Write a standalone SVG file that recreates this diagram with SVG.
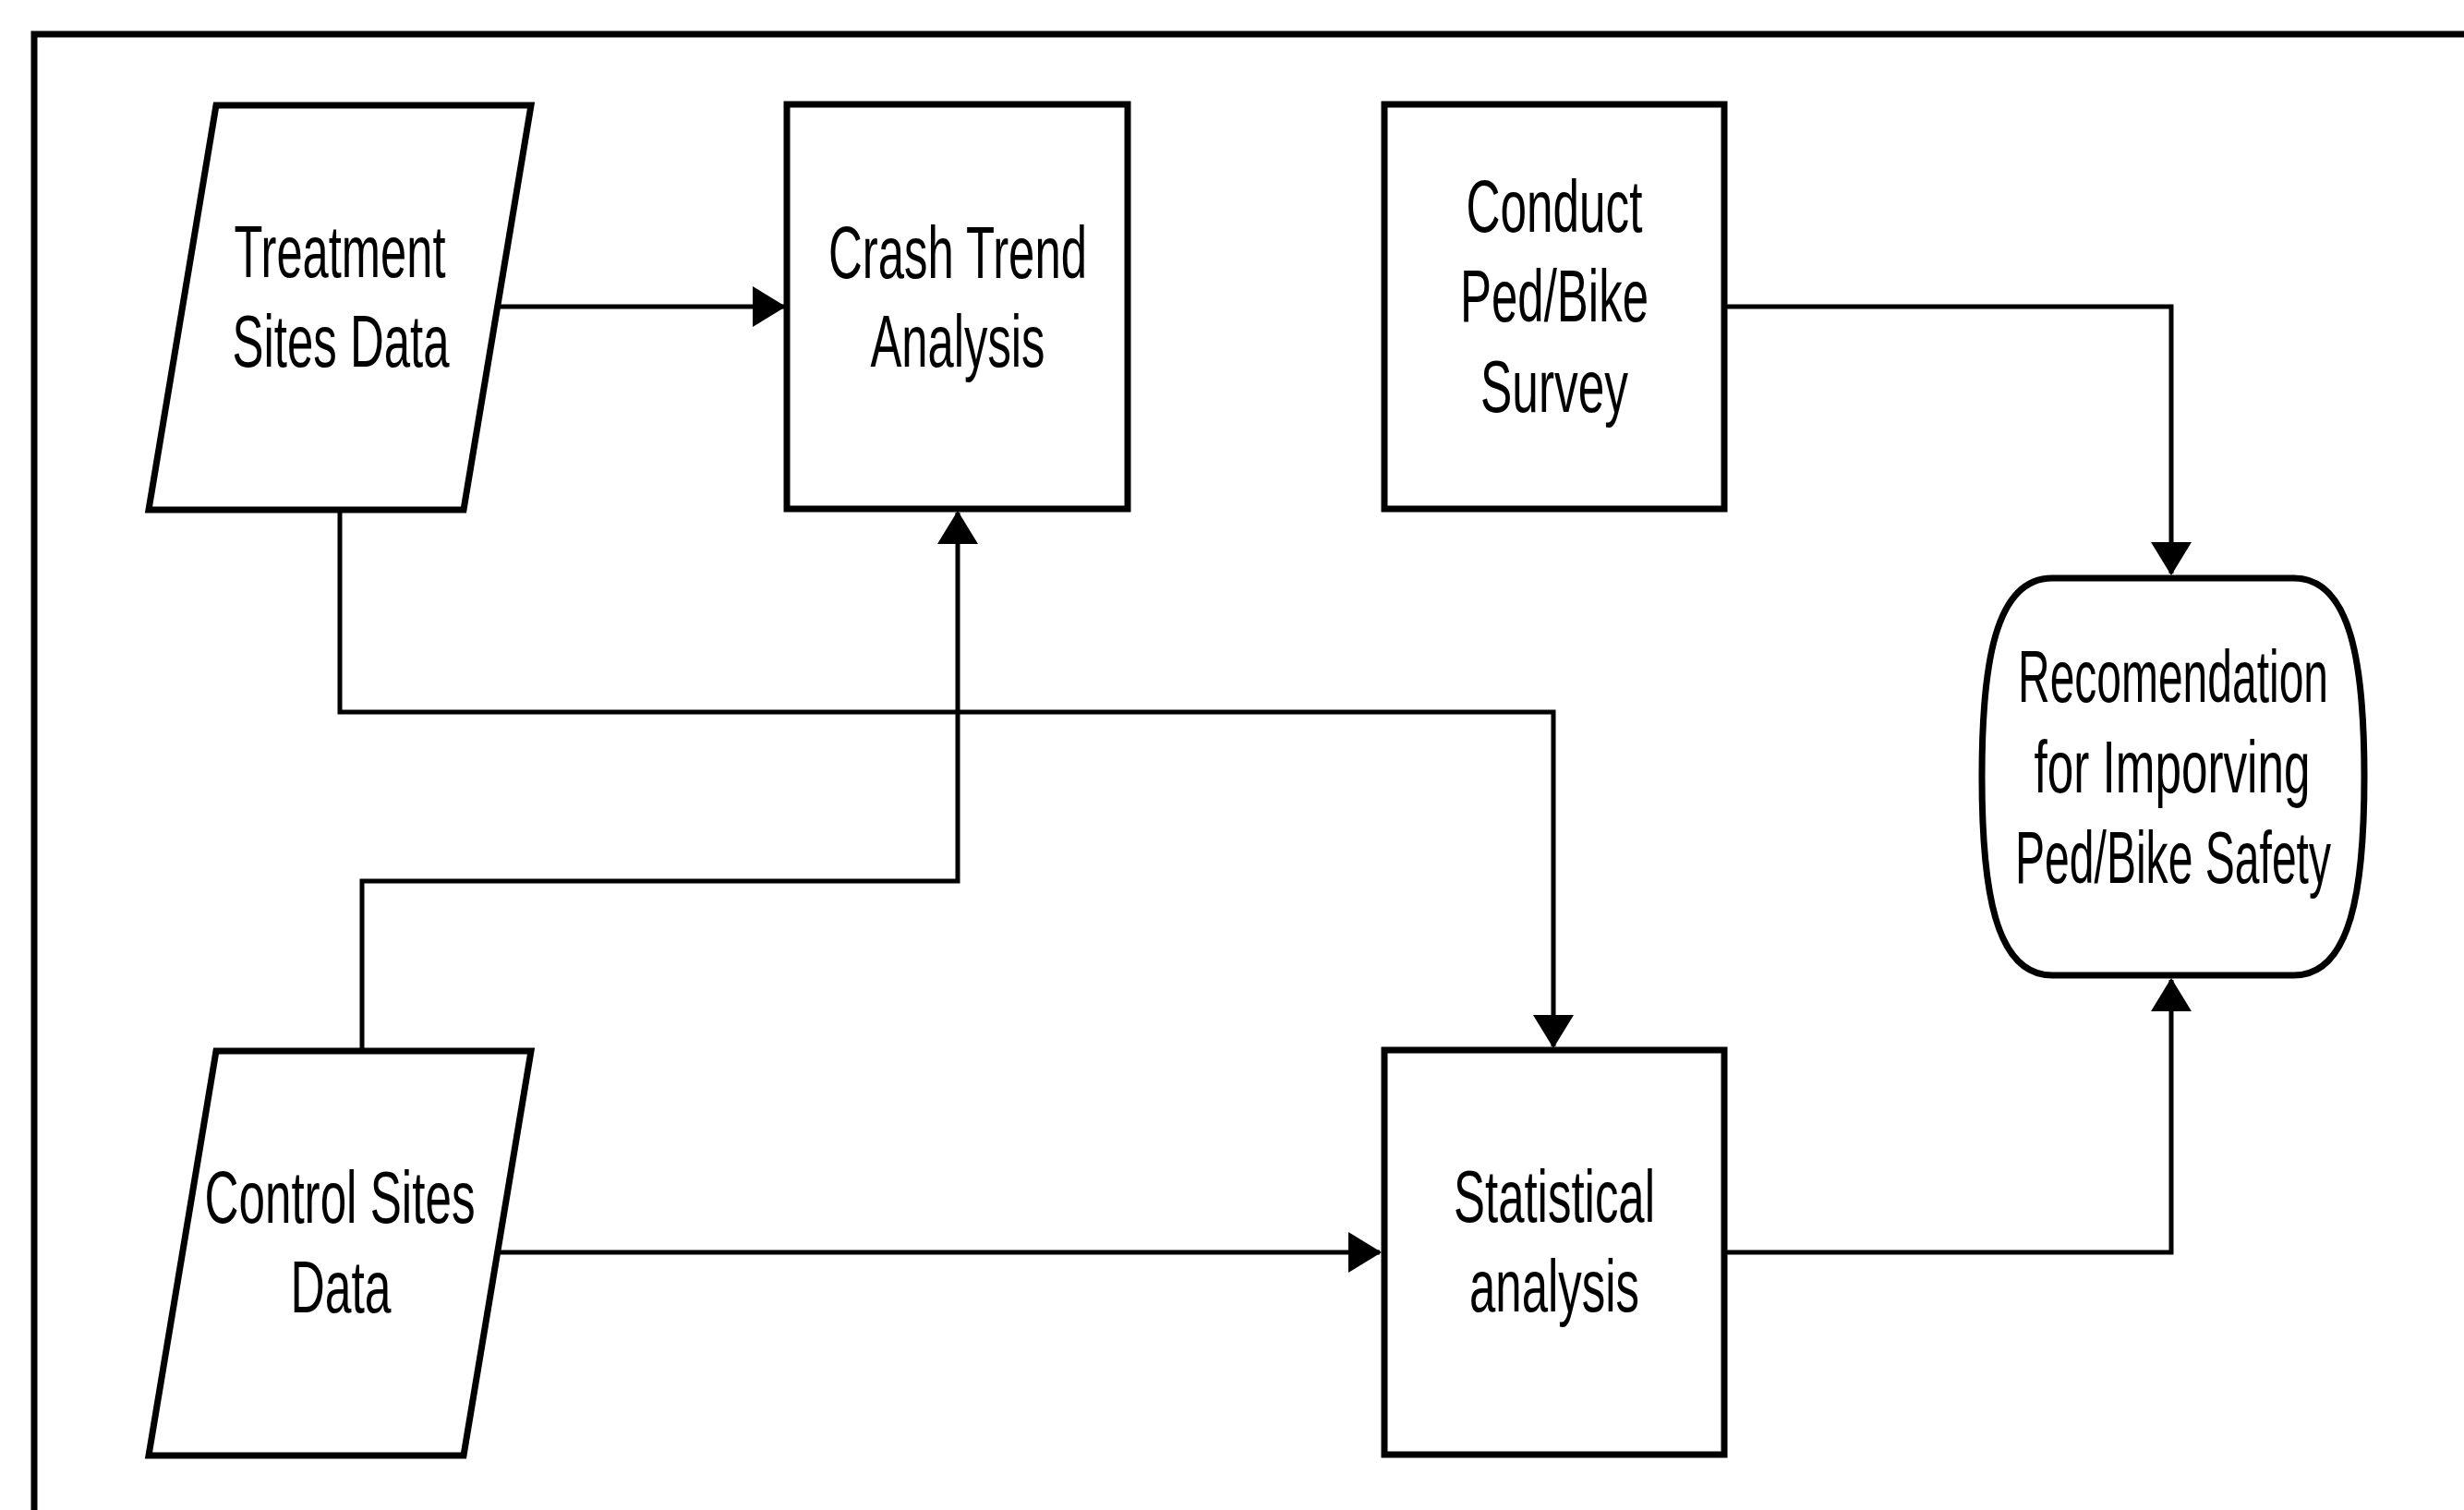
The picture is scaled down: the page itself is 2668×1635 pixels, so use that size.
<svg xmlns="http://www.w3.org/2000/svg" width="2668" height="1635" viewBox="0 0 2668 1635">
<defs>
<style>
.shape{fill:#fff;stroke:#000;stroke-width:7;stroke-linejoin:miter}
.conn{fill:none;stroke:#000;stroke-width:5}
.lbl{font-family:"Liberation Sans",Arial,sans-serif;font-size:80px;fill:#000;text-anchor:middle}
</style>
<marker id="arr" markerUnits="userSpaceOnUse" markerWidth="36" markerHeight="44" refX="34" refY="22" orient="auto" viewBox="0 0 36 44">
<path d="M0,0 L36,22 L0,44 Z" fill="#000"/>
</marker>
</defs>
<rect width="2668" height="1635" fill="#fff"/>
<path d="M37,1645 L37,37 L2680,37" fill="none" stroke="#000" stroke-width="7"/>
<g id="connectors">
<path class="conn" d="M532,332 L849,332" marker-end="url(#arr)"/>
<path class="conn" d="M368,551 L368,771 L1682,771 L1682,1133" marker-end="url(#arr)"/>
<path class="conn" d="M392,1137 L392,954 L1037,954 L1037,555" marker-end="url(#arr)"/>
<path class="conn" d="M533,1356 L1494,1356" marker-end="url(#arr)"/>
<path class="conn" d="M1867,332 L2351,332 L2351,621" marker-end="url(#arr)"/>
<path class="conn" d="M1867,1356 L2351,1356 L2351,1061" marker-end="url(#arr)"/>
</g>
<g id="treatment">
<polygon class="shape" points="234,114 575,114 502,552 161,552"/>
<text class="lbl" x="368" y="300" textLength="229" lengthAdjust="spacingAndGlyphs">Treatment</text>
<text class="lbl" x="369" y="397" textLength="235" lengthAdjust="spacingAndGlyphs">Sites Data</text>
</g>
<g id="crash">
<rect class="shape" x="852" y="113" width="369" height="438"/>
<text class="lbl" x="1037" y="301" textLength="280" lengthAdjust="spacingAndGlyphs">Crash Trend</text>
<text class="lbl" x="1037" y="397" textLength="189" lengthAdjust="spacingAndGlyphs">Analysis</text>
</g>
<g id="conduct">
<rect class="shape" x="1499" y="113" width="368" height="438"/>
<text class="lbl" x="1683" y="251" textLength="191" lengthAdjust="spacingAndGlyphs">Conduct</text>
<text class="lbl" x="1683" y="348" textLength="204" lengthAdjust="spacingAndGlyphs">Ped/Bike</text>
<text class="lbl" x="1683" y="446" textLength="160" lengthAdjust="spacingAndGlyphs">Survey</text>
</g>
<g id="recommendation">
<path class="shape" d="M2222,626 L2484,626 C2546,626 2560,720 2560,841 C2560,962 2546,1056 2484,1056 L2222,1056 C2160,1056 2146,962 2146,841 C2146,720 2160,626 2222,626 Z"/>
<text class="lbl" x="2353" y="760" textLength="336" lengthAdjust="spacingAndGlyphs">Recomendation</text>
<text class="lbl" x="2352" y="858" textLength="299" lengthAdjust="spacingAndGlyphs">for Imporving</text>
<text class="lbl" x="2353" y="956" textLength="342" lengthAdjust="spacingAndGlyphs">Ped/Bike Safety</text>
</g>
<g id="control">
<polygon class="shape" points="234,1138 575,1138 502,1576 161,1576"/>
<text class="lbl" x="368" y="1324" textLength="293" lengthAdjust="spacingAndGlyphs">Control Sites</text>
<text class="lbl" x="369" y="1421" textLength="109" lengthAdjust="spacingAndGlyphs">Data</text>
</g>
<g id="statistical">
<rect class="shape" x="1499" y="1137" width="368" height="438"/>
<text class="lbl" x="1683" y="1323" textLength="218" lengthAdjust="spacingAndGlyphs">Statistical</text>
<text class="lbl" x="1683" y="1420" textLength="184" lengthAdjust="spacingAndGlyphs">analysis</text>
</g>
</svg>
